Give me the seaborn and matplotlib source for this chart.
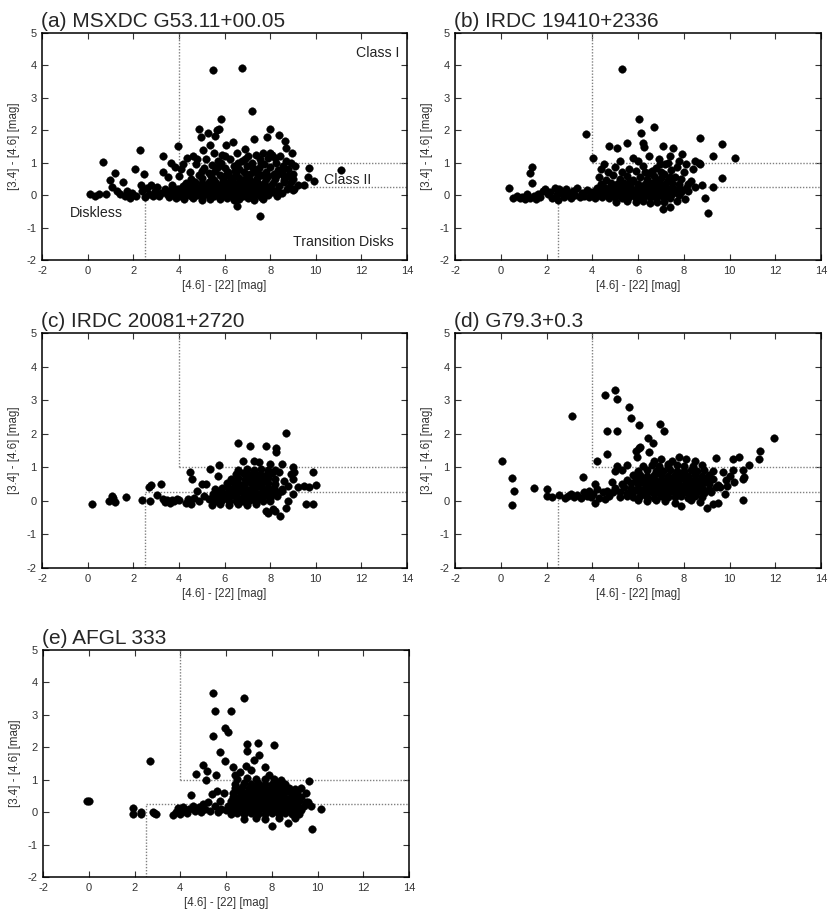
import matplotlib
matplotlib.use("Agg")
import matplotlib.pyplot as plt
import seaborn as sns
import pandas as pd

# ---------------- data ----------------
TITLES = ["(a) MSXDC G53.11+00.05", "(b) IRDC 19410+2336", "(c) IRDC 20081+2720",
          "(d) G79.3+0.3", "(e) AFGL 333"]
XLABEL = "[4.6] - [22] [mag]"
YLABEL = "[3.4] - [4.6] [mag]"
XTICKS = [-2, 0, 2, 4, 6, 8, 10, 12, 14]
YTICKS = [-2, -1, 0, 1, 2, 3, 4, 5]
# class boundaries
CLASS1_X, CLASS1_Y = 4.0, 1.0
DISKLESS_X, DISKLESS_Y = 2.5, 0.25
REGION_LABELS = ["Class I", "Class II", "Diskless", "Transition Disks"]
REGION_POS = [(12.7, 4.38), (11.4, 0.46), (0.4, -0.56), (11.2, -1.45)]

A_PTS = [
(0.12,0.04),(0.32,-0.04),(0.48,0.03),(0.82,0.05),(0.67,1.03),(1.18,0.67),(0.96,0.47),(1.05,0.25),
(1.30,0.13),(1.42,0.05),(1.55,0.42),(1.62,-0.03),(1.72,0.12),(1.85,-0.10),(1.95,0.06),(2.06,0.81),
(2.12,-0.02),(2.28,1.40),(2.32,0.30),(2.40,0.12),(2.46,0.64),(2.52,-0.06),(2.60,0.22),(2.68,0.04),
(2.78,0.32),(2.86,-0.04),(2.95,0.14),(3.05,0.26),(3.12,-0.02),(3.22,0.08),(3.29,1.21),(3.32,0.70),
(3.38,0.20),(3.46,0.04),(3.52,0.55),(3.58,-0.06),(3.64,0.16),(3.66,1.00),(3.72,0.32),(3.78,0.06),
(3.82,0.86),(3.88,-0.08),(3.92,0.20),(3.96,1.52),
(4.22,-0.12),(4.61,-0.10),(5.02,-0.14),(5.38,-0.11),(5.81,-0.13),(6.12,-0.09),(6.40,-0.15),(6.55,-0.32),
(6.62,-0.12),(7.02,-0.10),(7.31,-0.14),(7.70,-0.11),
(4.02,-0.02),(4.31,0.00),(4.55,-0.04),(4.80,-0.01),(5.06,-0.03),(5.30,0.01),(5.56,-0.02),(5.80,-0.04),
(6.05,0.00),(6.31,-0.03),(6.56,-0.01),(6.80,-0.04),(7.06,0.01),(7.30,-0.02),(7.61,-0.05),(7.92,0.00),(8.31,-0.03),
(4.12,0.08),(4.36,0.06),(4.61,0.10),(4.85,0.07),(5.11,0.09),(5.35,0.05),(5.60,0.10),(5.86,0.08),
(6.10,0.06),(6.36,0.11),(6.61,0.07),(6.85,0.09),(7.10,0.05),(7.36,0.10),(7.60,0.08),(7.86,0.06),(8.12,0.10),(8.52,0.07),
(4.00,0.18),(4.26,0.20),(4.50,0.16),(4.76,0.19),(5.00,0.17),(5.26,0.21),(5.50,0.18),(5.76,0.16),
(6.00,0.20),(6.26,0.17),(6.50,0.19),(6.76,0.21),(7.00,0.16),(7.26,0.18),(7.50,0.20),(7.76,0.17),
(8.02,0.19),(8.32,0.16),(8.72,0.18),
(4.16,0.28),(4.46,0.30),(4.71,0.26),(4.96,0.29),(5.21,0.27),(5.46,0.31),(5.71,0.28),(5.96,0.26),
(6.21,0.30),(6.46,0.27),(6.71,0.29),(6.96,0.31),(7.21,0.26),(7.46,0.28),(7.71,0.30),(8.01,0.27),
(8.41,0.29),(8.82,0.26),(9.05,0.20),
(4.31,0.38),(4.72,0.40),(5.02,0.36),(5.32,0.39),(5.62,0.37),(5.92,0.41),(6.17,0.38),(6.42,0.36),
(6.67,0.40),(6.92,0.37),(7.17,0.39),(7.42,0.41),(7.72,0.36),(8.12,0.38),(8.62,0.40),
(4.52,0.50),(5.02,0.52),(5.52,0.48),(5.92,0.51),(6.32,0.49),(6.62,0.53),(6.92,0.50),(7.12,0.47),
(7.42,0.52),(7.82,0.49),(8.22,0.51),(8.62,0.48),(9.02,0.50),
(4.10,0.80),(4.35,1.15),(4.50,0.70),(4.60,1.20),(4.75,0.95),(4.88,2.05),(4.90,0.62),(4.99,1.79),
(5.05,1.40),(5.10,0.85),(5.20,1.10),(5.26,1.93),(5.30,0.68),(5.35,1.55),(5.45,0.92),(5.48,3.85),
(5.55,1.30),(5.57,1.81),(5.60,0.75),(5.65,2.00),(5.75,2.04),(5.70,1.05),(5.80,0.62),(5.86,2.35),
(5.90,1.25),(6.00,0.85),(6.05,1.55),(6.15,0.70),(6.25,1.10),(6.36,1.63),(6.40,0.90),(6.50,0.65),
(6.55,1.30),(6.65,0.80),(6.77,3.91),(6.75,1.05),(6.85,0.70),(6.90,1.42),(7.00,0.90),(7.05,1.20),
(7.10,0.65),(7.22,2.59),(7.20,1.00),(7.31,1.74),(7.30,0.75),(7.40,1.25),(7.50,0.85),(7.55,1.10),
(7.60,0.62),(7.70,1.30),(7.75,0.95),(7.87,1.79),(7.80,0.72),(7.90,1.15),(7.98,2.03),(8.00,0.88),
(8.10,1.25),(8.15,0.65),(8.25,1.00),(8.38,1.84),(8.35,0.78),(8.45,1.20),(8.55,0.90),(8.60,0.60),
(8.67,1.67),(8.71,1.44),(8.70,1.05),(8.80,0.80),(8.90,1.00),(9.00,0.65),(9.10,0.90),(9.47,0.32),
(9.69,0.83),(9.65,0.55),(9.91,0.45),(11.11,0.76),(7.57,-0.64),(8.00,1.30),(6.00,1.20),(4.00,0.60),
(5.00,0.75),(5.40,0.60),(6.20,0.58),(6.60,1.00),(7.00,0.62),(7.40,0.70),(7.90,0.60),(8.30,0.62),
(8.50,0.72),(6.05,0.62),(5.70,0.88),(6.90,1.10),(7.60,1.00),(8.80,0.60),(8.90,0.40),(9.20,0.30),
(9.00,0.15),(8.95,1.30),(8.20,1.15),(7.25,0.85),(6.45,0.75),(5.85,1.00),(4.80,1.10),(4.20,0.95),
]

B_PTS = [
(0.36,0.23),(0.55,-0.08),(0.70,-0.02),(0.82,-0.10),(0.95,-0.05),(1.05,-0.12),(1.15,0.02),(1.28,0.68),
(1.38,0.86),(1.36,0.38),(1.30,-0.08),(1.45,-0.02),(1.55,-0.12),(1.62,0.05),(1.72,-0.06),(1.85,0.12),
(1.95,0.18),(2.05,0.02),(2.15,0.10),(2.25,-0.08),(2.35,0.22),(2.45,0.05),(2.50,-0.15),(2.55,0.18),
(2.65,0.08),(2.75,-0.05),(2.85,0.20),(2.95,0.02),(3.05,-0.08),(3.15,0.12),(3.25,0.00),(3.35,0.22),
(3.45,-0.05),(3.55,0.08),(3.65,-0.02),(3.72,1.89),(3.75,0.15),(3.85,-0.06),(3.95,0.10),
(5.02,-0.20),(5.51,-0.18),(5.92,-0.22),(6.21,-0.19),(6.52,-0.24),(6.81,-0.20),(7.08,-0.43),(7.40,-0.37),
(7.12,-0.21),(7.72,-0.18),(8.06,-0.13),(9.05,-0.56),(8.94,-0.08),
(4.10,-0.08),(4.41,-0.06),(4.72,-0.09),(5.00,-0.07),(5.31,-0.10),(5.60,-0.06),(5.92,-0.08),(6.20,-0.11),
(6.51,-0.07),(6.80,-0.09),(7.11,-0.06),(7.42,-0.10),
(4.00,0.02),(4.25,0.00),(4.50,0.03),(4.75,0.01),(5.00,0.04),(5.25,0.00),(5.50,0.02),(5.75,0.04),
(6.00,0.01),(6.25,0.03),(6.50,0.00),(6.75,0.02),(7.00,0.04),(7.25,0.01),(7.50,0.03),(7.80,0.00),
(4.10,0.12),(4.35,0.14),(4.60,0.11),(4.85,0.13),(5.10,0.12),(5.35,0.10),(5.60,0.14),(5.85,0.12),
(6.10,0.11),(6.35,0.13),(6.60,0.10),(6.85,0.14),(7.10,0.12),(7.35,0.11),(7.60,0.13),(7.90,0.10),(8.20,0.14),
(4.20,0.22),(4.50,0.24),(4.75,0.21),(5.00,0.23),(5.25,0.25),(5.50,0.22),(5.75,0.20),(6.00,0.24),
(6.25,0.22),(6.50,0.21),(6.75,0.25),(7.00,0.23),(7.25,0.20),(7.50,0.24),(7.80,0.22),(8.10,0.21),(8.50,0.25),
(4.40,0.35),(4.80,0.37),(5.10,0.34),(5.40,0.36),(5.70,0.38),(6.00,0.35),(6.30,0.33),(6.60,0.37),
(6.90,0.36),(7.20,0.34),(7.50,0.38),(7.80,0.35),(8.20,0.33),(8.80,0.30),(9.29,0.24),
(4.30,0.55),(4.60,0.48),(4.90,0.62),(5.20,0.50),(5.50,0.58),(5.80,0.47),(6.10,0.55),(6.40,0.49),
(6.70,0.60),(7.00,0.52),(7.30,0.46),(7.60,0.57),(7.90,0.50),(8.30,0.45),
(4.40,0.80),(4.70,0.72),(5.00,0.88),(5.30,0.70),(5.60,0.82),(5.90,0.75),(6.20,0.90),(6.50,0.68),
(6.80,0.85),(7.00,0.72),(7.20,0.95),(7.45,0.78),(7.70,0.88),(8.00,0.70),(8.40,0.80),(8.70,0.95),
(4.05,1.15),(4.72,1.52),(5.10,1.46),(5.50,1.60),(6.21,1.62),(6.27,1.50),(7.11,1.53),(7.55,1.45),
(7.92,1.27),(5.29,3.90),(6.05,2.35),(6.69,2.11),(6.12,1.91),(8.72,1.75),(9.69,1.57),(10.26,1.15),
(9.26,1.21),(9.66,0.52),(5.80,1.15),(6.50,1.20),(6.90,1.10),(7.40,1.20),(7.80,1.05),(8.50,1.05),
(8.65,1.00),(5.20,1.05),(4.50,0.95),(6.00,1.05),(8.10,0.95),
(6.85,0.45),(7.15,0.65),(7.40,0.55),(6.60,0.75),(7.30,1.00),(6.95,0.95),(5.65,0.45),(6.30,0.70),
]

C_PTS = [
(0.20,-0.08),(0.94,0.00),(1.05,0.15),(1.10,0.10),(1.18,-0.02),(1.70,0.12),(2.38,0.03),(2.75,0.00),
(2.70,0.42),(2.76,0.46),(3.23,0.51),(3.04,0.18),(3.30,0.05),(3.40,-0.03),(3.50,0.02),(3.60,-0.05),
(3.70,0.04),(3.80,0.00),(3.90,0.05),(4.00,0.02),(4.30,-0.05),(4.40,0.05),(4.50,0.86),(4.58,0.66),
(4.55,-0.10),(4.65,0.10),(4.80,0.30),(4.90,0.00),(5.03,0.51),(5.10,0.15),(5.20,0.50),(5.30,0.05),
(5.38,0.96),(5.45,-0.12),(5.50,0.20),(5.60,0.35),(5.76,1.07),(5.70,0.75),
(5.80,-0.10),(6.20,-0.12),(6.60,-0.08),(7.00,-0.11),(7.40,-0.09),(7.80,-0.30),(8.13,-0.25),
(5.60,0.00),(5.90,0.02),(6.20,-0.01),(6.50,0.01),(6.80,0.00),(7.10,0.02),(7.40,-0.01),(7.70,0.01),(8.00,0.00),
(5.50,0.12),(5.75,0.14),(6.00,0.11),(6.25,0.13),(6.50,0.12),(6.75,0.10),(7.00,0.14),(7.25,0.12),
(7.50,0.11),(7.75,0.13),(8.00,0.10),(8.30,0.14),
(5.60,0.25),(5.85,0.27),(6.10,0.24),(6.35,0.26),(6.60,0.25),(6.85,0.23),(7.10,0.27),(7.35,0.25),
(7.60,0.24),(7.85,0.26),(8.10,0.23),(8.40,0.27),
(5.90,0.38),(6.15,0.40),(6.40,0.37),(6.65,0.39),(6.90,0.38),(7.15,0.36),(7.40,0.40),(7.65,0.38),
(7.90,0.37),(8.15,0.39),(8.50,0.36),
(6.10,0.52),(6.40,0.54),(6.65,0.51),(6.90,0.53),(7.15,0.52),(7.40,0.50),(7.65,0.54),(7.90,0.52),(8.20,0.51),
(6.30,0.66),(6.60,0.68),(6.90,0.65),(7.15,0.67),(7.40,0.66),(7.65,0.64),(7.90,0.68),(8.20,0.66),
(6.50,0.80),(6.80,0.82),(7.05,0.79),(7.30,0.81),(7.55,0.80),(7.80,0.78),(8.10,0.82),
(6.60,0.93),(7.00,0.95),(7.30,0.92),(7.60,0.94),(7.90,0.93),(8.20,0.91),
(6.60,1.73),(7.10,1.64),(7.80,1.64),(8.25,1.57),(8.25,1.47),(8.71,2.03),(7.30,1.20),(7.50,1.15),
(6.80,1.20),(8.00,1.10),(8.50,1.10),(9.00,1.02),(8.90,0.80),(9.00,0.65),(9.20,0.40),(9.00,0.20),
(8.80,0.45),(8.80,0.00),(8.70,-0.20),(9.88,0.86),(9.99,0.46),(9.69,0.41),(9.59,-0.10),(9.88,-0.08),
(9.50,0.45),(8.42,-0.46),(8.20,-0.30),(7.90,-0.35),(8.50,0.30),(8.60,0.60),(8.40,0.85),(9.05,0.85),
]

D_PTS = [
(0.04,1.19),(0.51,0.68),(0.59,0.30),(0.51,-0.12),(1.45,0.37),(2.00,0.36),(2.00,0.15),(2.26,0.12),
(2.54,0.18),(2.80,0.10),(2.95,0.15),(3.05,0.20),(3.13,2.54),(3.20,0.12),(3.35,0.18),(3.50,0.10),
(3.59,0.71),(3.65,0.25),(3.75,0.15),(3.85,0.30),(3.95,0.12),(4.05,0.20),(4.14,0.51),(4.10,-0.05),
(4.20,0.35),(4.22,1.19),(4.30,0.10),(4.45,0.25),(4.55,0.05),(4.65,0.30),(4.75,0.15),(4.85,0.55),
(6.00,0.02),(6.40,-0.01),(6.80,0.03),(7.20,0.00),(7.60,-0.06),(7.90,-0.15),(8.30,0.02),(8.70,-0.03),
(9.00,-0.20),(9.30,-0.10),(9.50,-0.05),
(5.20,0.12),(5.50,0.14),(5.80,0.11),(6.10,0.13),(6.40,0.12),(6.70,0.10),(7.00,0.14),(7.30,0.12),
(7.60,0.11),(7.90,0.13),(8.20,0.10),(8.50,0.14),(8.80,0.12),
(4.90,0.25),(5.20,0.27),(5.50,0.24),(5.80,0.26),(6.10,0.25),(6.35,0.23),(6.60,0.27),(6.85,0.25),
(7.10,0.24),(7.35,0.26),(7.60,0.23),(7.85,0.27),(8.10,0.25),(8.35,0.24),(8.60,0.26),(8.90,0.23),(9.20,0.27),
(5.00,0.38),(5.40,0.40),(5.70,0.37),(6.00,0.39),(6.30,0.38),(6.55,0.36),(6.80,0.40),(7.05,0.38),
(7.30,0.37),(7.55,0.39),(7.80,0.36),(8.05,0.40),(8.30,0.38),(8.55,0.37),(8.80,0.39),(9.10,0.36),(9.40,0.40),
(5.30,0.50),(5.70,0.52),(6.00,0.49),(6.30,0.51),(6.55,0.50),(6.80,0.48),(7.05,0.52),(7.30,0.50),
(7.55,0.49),(7.80,0.51),(8.05,0.48),(8.30,0.52),(8.55,0.50),(8.80,0.49),(9.10,0.51),(9.50,0.48),
(5.50,0.63),(5.90,0.65),(6.20,0.62),(6.50,0.64),(6.75,0.63),(7.00,0.61),(7.25,0.65),(7.50,0.63),
(7.75,0.62),(8.00,0.64),(8.25,0.61),(8.50,0.65),(8.75,0.63),(9.00,0.62),(9.30,0.64),
(5.80,0.76),(6.10,0.78),(6.40,0.75),(6.70,0.77),(7.00,0.76),(7.30,0.74),(7.60,0.78),(7.90,0.76),
(8.20,0.75),(8.50,0.77),(8.80,0.74),(9.10,0.78),
(5.00,0.90),(5.30,0.92),(6.00,0.89),(6.40,0.91),(6.80,0.90),(7.10,0.88),(7.40,0.92),(7.70,0.90),
(8.00,0.89),(8.30,0.91),(8.60,0.88),(8.90,0.92),(9.30,0.90),
(5.10,1.05),(5.50,1.07),(6.20,1.04),(6.60,1.06),(6.90,1.05),(7.30,1.03),(7.70,1.07),(8.00,1.05),
(8.40,1.04),(8.80,1.06),
(4.54,3.15),(5.01,3.30),(5.09,3.02),(5.59,2.81),(5.70,2.46),(6.03,2.25),(6.96,2.28),(7.14,2.08),
(4.65,2.08),(5.10,2.08),(6.45,1.86),(6.64,1.73),(6.03,1.57),(5.91,1.49),(6.10,1.60),(4.65,1.39),
(5.95,1.30),(6.50,1.45),(6.70,1.20),(7.00,1.25),(7.50,1.20),(7.80,1.30),(8.10,1.25),(8.50,1.20),(7.30,1.10),
(11.96,1.86),(11.35,1.50),(11.28,1.24),(10.87,1.07),(10.59,0.93),(10.59,0.66),(10.65,0.70),(10.59,0.02),
(10.16,1.24),(9.39,1.27),(10.16,0.91),(9.83,0.63),(10.00,0.75),(10.20,0.55),(9.70,0.85),(9.80,0.20),
(9.60,0.40),(9.90,0.45),(10.40,1.30),
]

E_PTS = [
(-0.09,0.35),(0.00,0.35),(1.92,0.14),(1.95,-0.06),(2.28,-0.01),(2.30,-0.06),(2.69,1.58),(2.80,0.00),
(2.94,-0.06),(2.87,-0.03),(3.70,-0.08),(3.80,0.00),(3.90,0.12),(4.00,-0.05),(4.10,0.15),(4.20,0.05),
(4.30,-0.02),(4.46,0.53),(4.40,0.10),(4.55,0.20),(4.65,0.05),(4.80,0.15),(4.90,0.00),(5.00,0.25),
(5.10,0.10),(5.20,0.30),(5.30,0.05),(5.40,0.55),(5.50,0.20),(5.60,0.65),(5.65,0.00),(5.75,0.35),
(5.80,0.10),(5.90,0.60),
(5.41,3.66),(6.79,3.53),(5.52,3.12),(6.21,3.13),(5.96,2.58),(6.10,2.48),(5.44,2.35),(6.93,2.09),
(7.41,2.14),(8.10,2.07),(5.74,1.84),(6.93,1.89),(7.44,1.76),(5.96,1.58),(7.23,1.61),(6.86,1.43),
(5.01,1.46),(5.16,1.27),(4.68,1.18),(5.12,0.99),(5.55,1.14),(6.30,1.40),(6.60,1.25),(7.10,1.30),
(7.70,1.40),(7.90,1.15),(6.40,1.15),
(6.80,-0.20),(7.30,-0.18),(7.70,-0.22),(8.00,-0.44),(8.30,-0.19),(8.70,-0.35),(9.00,-0.18),
(6.20,-0.05),(6.50,-0.03),(6.80,-0.06),(7.10,-0.04),(7.40,-0.07),(7.70,-0.05),(8.00,-0.03),(8.30,-0.06),
(8.60,-0.04),(8.90,-0.07),(9.20,-0.05),
(6.00,0.08),(6.25,0.10),(6.50,0.07),(6.75,0.09),(7.00,0.08),(7.25,0.06),(7.50,0.10),(7.75,0.08),
(8.00,0.07),(8.25,0.09),(8.50,0.06),(8.75,0.10),(9.00,0.08),(9.30,0.07),
(6.10,0.20),(6.35,0.22),(6.60,0.19),(6.85,0.21),(7.10,0.20),(7.35,0.18),(7.60,0.22),(7.85,0.20),
(8.10,0.19),(8.35,0.21),(8.60,0.18),(8.85,0.22),(9.10,0.20),(9.40,0.19),
(6.20,0.33),(6.45,0.35),(6.70,0.32),(6.95,0.34),(7.20,0.33),(7.45,0.31),(7.70,0.35),(7.95,0.33),
(8.20,0.32),(8.45,0.34),(8.70,0.31),(8.95,0.35),(9.20,0.33),(9.50,0.32),
(6.30,0.46),(6.55,0.48),(6.80,0.45),(7.05,0.47),(7.30,0.46),(7.55,0.44),(7.80,0.48),(8.05,0.46),
(8.30,0.45),(8.55,0.47),(8.80,0.44),(9.05,0.48),(9.30,0.46),
(6.30,0.60),(6.60,0.62),(6.85,0.59),(7.10,0.61),(7.35,0.60),(7.60,0.58),(7.85,0.62),(8.10,0.60),
(8.35,0.59),(8.60,0.61),(8.85,0.58),(9.10,0.62),
(6.40,0.74),(6.70,0.76),(7.00,0.73),(7.25,0.75),(7.50,0.74),(7.75,0.72),(8.00,0.76),(8.25,0.74),
(8.50,0.73),(8.75,0.75),(9.00,0.72),
(6.40,0.88),(6.80,0.90),(7.10,0.87),(7.40,0.89),(7.70,0.88),(8.00,0.86),(8.30,0.90),(8.60,0.88),
(6.50,1.02),(6.90,1.04),(7.30,1.01),(7.70,1.03),(8.10,1.02),(8.40,1.00),
(9.62,0.96),(10.17,0.09),(9.77,-0.52),(9.60,0.30),(9.70,0.20),(9.50,0.60),(9.30,0.75),
]

PANELS = [A_PTS, B_PTS, C_PTS, D_PTS, E_PTS]

# ---------------- style ----------------
sns.set_theme(style="ticks")
plt.rcParams["font.family"] = ["Liberation Sans", "DejaVu Sans"]

W, H = 830, 918
fig = plt.figure(figsize=(W / 100, H / 100), dpi=100)

# axes boxes in pixels: (left, top, right, bottom)
BOXES = [(42, 33, 407, 260), (455, 33, 821, 260),
         (42, 333, 407, 568), (455, 333, 821, 568),
         (43, 650, 409, 877)]

line_kw = dict(color="#808080", ls=(0, (1, 1.2)), lw=1.0, zorder=1)

for i, (pts, title, box) in enumerate(zip(PANELS, TITLES, BOXES)):
    l, t, r, b = box
    ax = fig.add_axes([l / W, 1 - b / H, (r - l) / W, (b - t) / H])
    df = pd.DataFrame(pts, columns=["x", "y"])
    ax.plot([CLASS1_X, CLASS1_X], [CLASS1_Y, YTICKS[-1]], **line_kw)
    ax.plot([CLASS1_X, XTICKS[-1]], [CLASS1_Y, CLASS1_Y], **line_kw)
    ax.plot([DISKLESS_X, DISKLESS_X], [YTICKS[0], DISKLESS_Y], **line_kw)
    ax.plot([DISKLESS_X, XTICKS[-1]], [DISKLESS_Y, DISKLESS_Y], **line_kw)
    sns.scatterplot(data=df, x="x", y="y", ax=ax, color="black", s=30,
                    edgecolor="black", linewidth=0.3, zorder=3, legend=False)
    ax.set_xlim(XTICKS[0], XTICKS[-1])
    ax.set_ylim(YTICKS[0], YTICKS[-1])
    ax.set_xticks(XTICKS)
    ax.set_yticks(YTICKS)
    ax.set_xticklabels([str(v) for v in XTICKS])
    ax.set_yticklabels([str(v) for v in YTICKS])
    ax.tick_params(direction="in", top=True, right=True, length=4, width=0.8,
                   labelsize=8, colors="#333333", pad=4)
    for sp in ax.spines.values():
        sp.set_linewidth(1.1)
        sp.set_color("black")
    ax.set_xlabel(XLABEL, fontsize=8.3, color="#333333", labelpad=3)
    ax.set_ylabel(YLABEL, fontsize=8.3, color="#333333", labelpad=5)
    ax.set_title(title, loc="left", fontsize=15, pad=4, x=-0.003)
    if i == 0:
        for txt, (tx, ty) in zip(REGION_LABELS, REGION_POS):
            ax.text(tx, ty, txt, fontsize=10.2, ha="center", va="center",
                    color="#222222", zorder=4)

fig.savefig("out.png", dpi=100)
